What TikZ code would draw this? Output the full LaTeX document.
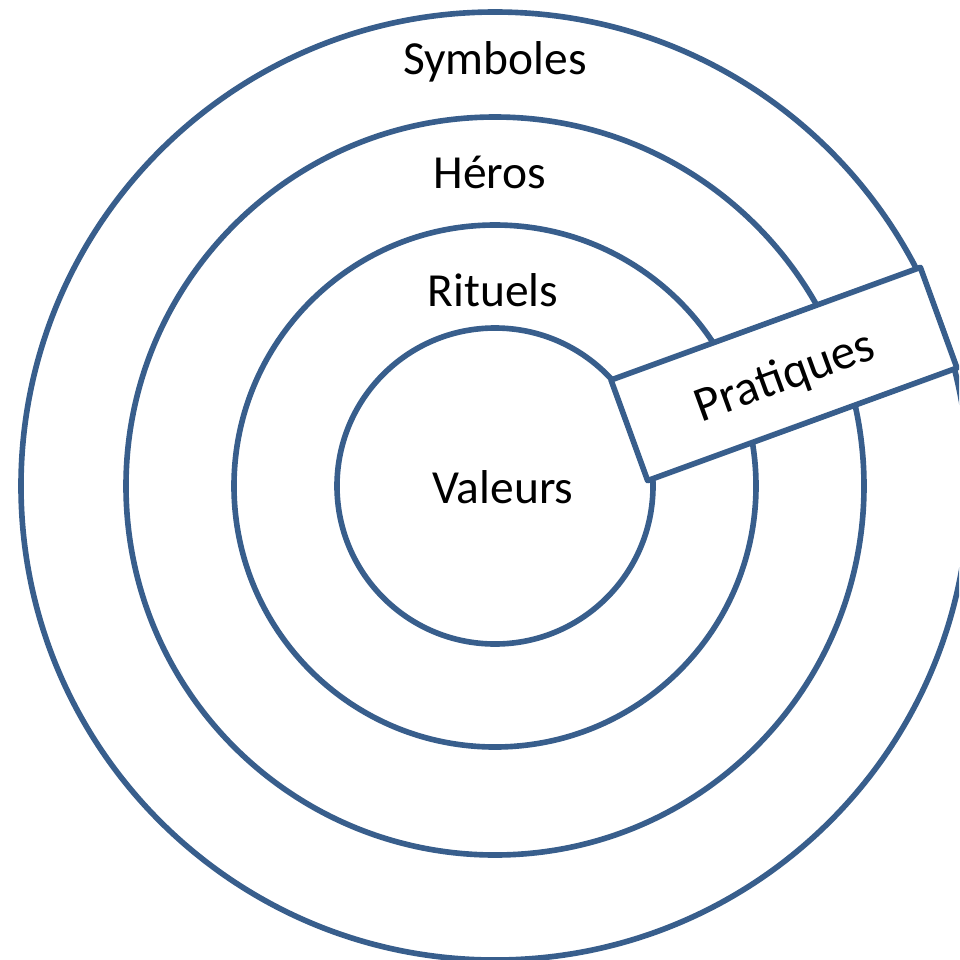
\documentclass[tikz,border=0pt]{standalone}
\usepackage{fontspec}
\setmainfont{Carlito}
\definecolor{ringblue}{RGB}{56,94,140}
\tikzset{ring/.style={draw=ringblue, line width=1.6pt}}
\begin{document}
\begin{tikzpicture}[x=0.01cm, y=-0.01cm, line join=round, font=\fontsize{13.5}{16}\selectfont]
	\def\cx{495} \def\cy{486} % centre
	\useasboundingbox (0,0) rectangle (959,960);
	\clip (0,0) rectangle (959,960);
	\foreach \r in {158,261,369,474} \draw[ring] (\cx,\cy) circle (\r);
	\node (symb) at (495,62) {Symboles};
	\node (heros) at (490,172) {Héros};
	\node (rit) at (493,290) {Rituels};
	\node (val) at (503,487) {Valeurs};
	\node[ring, fill=white, rotate=20, minimum width=3.29cm, minimum height=1.07cm, inner sep=0pt, text depth=0pt, font=\fontsize{14}{16}\selectfont] (prat) at (784,374) {Pratiques};
\end{tikzpicture}
\end{document}
